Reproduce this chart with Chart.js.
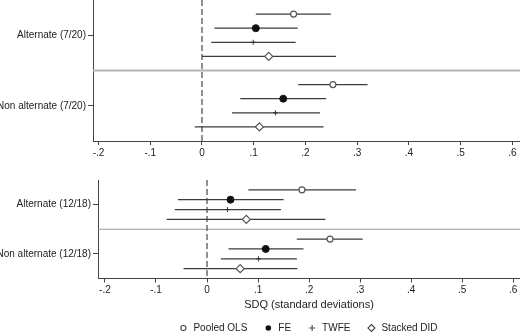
<!DOCTYPE html>
<html>
<head>
<meta charset="utf-8">
<script src="https://cdn.jsdelivr.net/npm/chart.js@4.4.1/dist/chart.umd.min.js"></script>
<style>
  body { margin: 0; background: #fff; overflow: hidden; }
  #wrap { position: relative; width: 520px; height: 332px; }
  canvas { position: absolute; left: 0; }
</style>
</head>
<body>
<div id="wrap">
  <canvas id="topPanel" width="520" height="168" style="top:0"></canvas>
  <canvas id="bottomPanel" width="520" height="164" style="top:168px"></canvas>
</div>
<script>
var estimators = ['Pooled OLS', 'FE', 'TWFE', 'Stacked DID'];
var xTicks = [-0.2, -0.1, 0, 0.1, 0.2, 0.3, 0.4, 0.5, 0.6];

// top panel: one row per estimator, [alternate, non alternate]
var groupsTop = ['Alternate (7/20)', 'Non alternate (7/20)'];
var estTop = [[0.177, 0.253], [0.104, 0.157], [0.099, 0.142], [0.129, 0.111]];
var lowTop = [[0.104, 0.186], [0.024, 0.074], [0.018, 0.058], [0.000, -0.014]];
var highTop = [[0.249, 0.320], [0.185, 0.240], [0.181, 0.228], [0.259, 0.235]];

// bottom panel
var groupsBottom = ['Alternate (12/18)', 'Non alternate (12/18)'];
var estBottom = [[0.186, 0.241], [0.046, 0.115], [0.040, 0.101], [0.077, 0.065]];
var lowBottom = [[0.081, 0.176], [-0.057, 0.042], [-0.063, 0.027], [-0.079, -0.046]];
var highBottom = [[0.292, 0.305], [0.150, 0.189], [0.145, 0.176], [0.232, 0.177]];

var FONT = '"Liberation Sans", Arial, sans-serif';
var markers = [
  { pointStyle: 'circle', radius: 3, bg: '#fff', border: '#555', bw: 1.2 },
  { pointStyle: 'circle', radius: 3.5, bg: '#111', border: '#111', bw: 1 },
  { pointStyle: 'cross', radius: 2.5, bg: '#333', border: '#333', bw: 1 },
  { pointStyle: 'rectRot', radius: 4, bg: '#fff', border: '#555', bw: 1.2 }
];

function rowPos(g, s) { return g * 5 + s + 1; }

function tickLabel(v) {
  if (Math.abs(v) < 1e-9) return '0';
  var s = (Math.round(v * 10) / 10).toString();
  return s.replace('0.', '.');
}

function forestPlugin(low, high, sepColor, sepWidth) {
  return {
    id: 'forest',
    beforeDatasetsDraw: function (chart) {
      var ctx = chart.ctx, x = chart.scales.x, y = chart.scales.y, a = chart.chartArea;
      ctx.save();
      ctx.strokeStyle = sepColor;
      ctx.lineWidth = sepWidth;
      var sy = y.getPixelForValue(5);
      ctx.beginPath(); ctx.moveTo(a.left, sy); ctx.lineTo(a.right, sy); ctx.stroke();

      var zx = x.getPixelForValue(0);
      ctx.strokeStyle = '#555';
      ctx.lineWidth = 1.3;
      ctx.setLineDash([6, 3]);
      ctx.beginPath(); ctx.moveTo(zx, a.top); ctx.lineTo(zx, a.bottom); ctx.stroke();
      ctx.setLineDash([]);

      ctx.strokeStyle = '#3c3c3c';
      ctx.lineWidth = 1.3;
      low.forEach(function (row, s) {
        row.forEach(function (v, g) {
          var py = y.getPixelForValue(rowPos(g, s));
          ctx.beginPath();
          ctx.moveTo(x.getPixelForValue(v), py);
          ctx.lineTo(x.getPixelForValue(high[s][g]), py);
          ctx.stroke();
        });
      });
      ctx.restore();
    }
  };
}

var legendPlugin = {
  id: 'forestLegend',
  afterDraw: function (chart) {
    var ctx = chart.ctx, a = chart.chartArea;
    var cy = 160, gap = 16;
    ctx.save();
    ctx.font = '10px ' + FONT;
    var widths = estimators.map(function (t) { return 15 + ctx.measureText(t).width; });
    var total = widths.reduce(function (p, w) { return p + w; }, 0) + gap * (widths.length - 1);
    var x0 = (a.left + a.right) / 2 - total / 2 - 1;
    estimators.forEach(function (t, i) {
      var cx = x0 + 5;
      ctx.lineWidth = 1.1;
      ctx.strokeStyle = '#444';
      ctx.beginPath();
      if (i === 0) { ctx.arc(cx, cy, 2.5, 0, Math.PI * 2); ctx.fillStyle = '#fff'; ctx.fill(); ctx.stroke(); }
      if (i === 1) { ctx.arc(cx, cy, 2.8, 0, Math.PI * 2); ctx.fillStyle = '#111'; ctx.fill(); }
      if (i === 2) { ctx.moveTo(cx - 3, cy); ctx.lineTo(cx + 3, cy); ctx.moveTo(cx, cy - 3); ctx.lineTo(cx, cy + 3); ctx.stroke(); }
      if (i === 3) { ctx.moveTo(cx, cy - 3.5); ctx.lineTo(cx + 3.5, cy); ctx.lineTo(cx, cy + 3.5); ctx.lineTo(cx - 3.5, cy); ctx.closePath(); ctx.stroke(); }
      ctx.fillStyle = '#222';
      ctx.textBaseline = 'middle';
      ctx.textAlign = 'left';
      ctx.fillText(t, x0 + 15, cy);
      x0 += widths[i] + gap;
    });
    ctx.restore();
  }
};

function makePanel(id, groups, est, low, high, cfg) {
  var datasets = estimators.map(function (name, s) {
    var m = markers[s];
    return {
      label: name,
      data: est[s].map(function (v, g) { return { x: v, y: rowPos(g, s) }; }),
      pointStyle: m.pointStyle,
      pointRadius: m.radius,
      pointBackgroundColor: m.bg,
      pointBorderColor: m.border,
      pointBorderWidth: m.bw,
      showLine: false
    };
  });
  var plugins = [forestPlugin(low, high, cfg.sepColor, cfg.sepWidth)];
  if (cfg.legend) plugins.push(legendPlugin);
  return new Chart(document.getElementById(id), {
    type: 'scatter',
    data: { datasets: datasets },
    plugins: plugins,
    options: {
      responsive: false, animation: false, devicePixelRatio: 1,
      layout: { autoPadding: false, padding: { top: cfg.padTop, left: 0, right: 0, bottom: 0 } },
      plugins: { legend: { display: false }, tooltip: { enabled: false } },
      scales: {
        x: {
          type: 'linear', min: cfg.xmin, max: cfg.xmax,
          afterBuildTicks: function (sc) { sc.ticks = xTicks.map(function (v) { return { value: v }; }); },
          afterFit: function (sc) { sc.height = cfg.xHeight; sc.paddingLeft = 0; sc.paddingRight = 0; },
          ticks: { callback: tickLabel, color: '#222', font: { family: FONT, size: 10 }, padding: 2, maxRotation: 0, autoSkip: false },
          grid: { drawOnChartArea: false, drawTicks: true, tickLength: 4, color: '#444' },
          border: { color: '#444', width: 1 },
          title: {
            display: !!cfg.title, text: cfg.title || '', color: '#222',
            font: { family: FONT, size: 11 }, padding: { top: 0, bottom: cfg.titlePad || 0 }
          }
        },
        y: {
          type: 'linear', min: 0, max: 10, reverse: true,
          afterBuildTicks: function (sc) { sc.ticks = [{ value: 2.5 }, { value: 7.5 }]; },
          afterFit: function (sc) { sc.width = cfg.yWidth; sc.paddingTop = 0; sc.paddingBottom = 0; },
          ticks: {
            callback: function (v, i) { return groups[i]; },
            color: '#222', font: { family: FONT, size: 10 }, padding: 2
          },
          grid: { drawOnChartArea: false, drawTicks: true, tickLength: 5, color: '#444' },
          border: { color: '#444', width: 1 }
        }
      }
    }
  });
}

makePanel('topPanel', groupsTop, estTop, lowTop, highTop, {
  xmin: -0.2106, xmax: 0.6145, padTop: 0, xHeight: 27, yWidth: 93,
  sepColor: '#b4b4b4', sepWidth: 2
});

makePanel('bottomPanel', groupsBottom, estBottom, lowBottom, highBottom, {
  xmin: -0.2136, xmax: 0.6132, padTop: 12, xHeight: 53.5, yWidth: 98,
  sepColor: '#999', sepWidth: 1, title: 'SDQ (standard deviations)', titlePad: 20, legend: true
});
</script>
</body>
</html>
